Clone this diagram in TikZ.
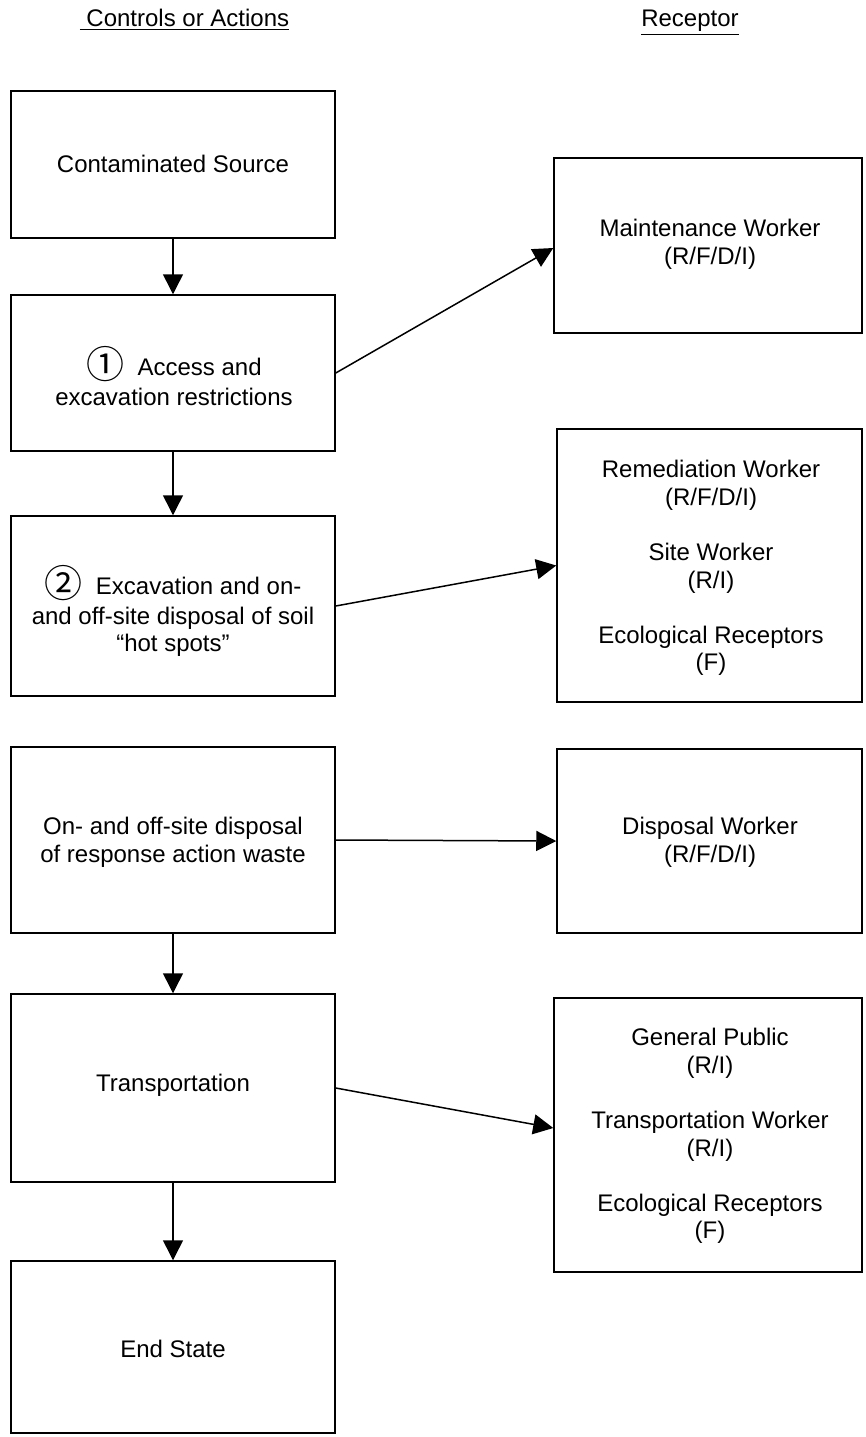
\documentclass[tikz,border=0pt]{standalone}
\usepackage{fontspec}
\setmainfont{Liberation Sans}
\newfontfamily\cjkfont{Noto Sans CJK JP}
\usetikzlibrary{arrows.meta}
\newcommand{\circnum}[1]{\raisebox{-1.5pt}{\cjkfont\fontsize{19}{19}\selectfont #1}}
\begin{document}
\begin{tikzpicture}[x=0.5pt,y=-0.5pt,
  box/.style={draw, line width=0.75pt, inner sep=0pt},
  lbox/.style={box, minimum width=162pt},
  rbox/.style={box},
  txt/.style={font=\fontsize{12}{13.8}\selectfont, align=center, inner sep=0pt},
  arr/.style={line width=0.75pt, -{Triangle[length=10pt,width=10pt]}}]
\useasboundingbox (0,0) rectangle (866,1437);

% headers
\node[txt, anchor=base] (h1) at (184.5,26.5) {\underline{\ Controls or Actions}};
\node[txt, anchor=base] (h2) at (690,26.5) {\underline{Receptor}};

% left column boxes
\node[lbox, minimum height=73.5pt] (b1) at (173,164.5) {};
\node[lbox, minimum height=78pt] (b2) at (173,373) {};
\node[lbox, minimum height=90pt] (b3) at (173,606) {};
\node[lbox, minimum height=93pt] (b4) at (173,840) {};
\node[lbox, minimum height=94pt] (b5) at (173,1088) {};
\node[lbox, minimum height=86pt] (b6) at (173,1347) {};

% right column boxes
\node[rbox, minimum width=154pt, minimum height=87.5pt] (r1) at (708,245.5) {};
\node[rbox, minimum width=152.5pt, minimum height=136.5pt] (r2) at (709.5,565.5) {};
\node[rbox, minimum width=152.5pt, minimum height=92pt] (r3) at (709.5,841) {};
\node[rbox, minimum width=154pt, minimum height=137pt] (r4) at (708,1135) {};

% texts
\node[txt] (t1) at (173,164) {Contaminated Source};
\node[txt] (t2) at (174,376) {\circnum{①}\ \ Access and\\[1pt]excavation restrictions};
\node[txt] (t3) at (173,611) {\circnum{②}\ \ Excavation and on-\\[1pt]and off-site disposal of soil\\“hot spots”};
\node[txt] (t4) at (173,842.5) {On- and off-site disposal\\of response action waste};
\node[txt] (t5) at (173,1085) {Transportation};
\node[txt] (t6) at (173,1349) {End State};

\node[txt] (s1) at (710,244.5) {Maintenance Worker\\(R/F/D/I)};
\node[txt] (s2) at (711,568) {Remediation Worker\\(R/F/D/I)\\[13.8pt]Site Worker\\(R/I)\\[13.8pt]Ecological Receptors\\(F)};
\node[txt] (s3) at (710,842.5) {Disposal Worker\\(R/F/D/I)};
\node[txt] (s4) at (710,1136) {General Public\\(R/I)\\[13.8pt]Transportation Worker\\(R/I)\\[13.8pt]Ecological Receptors\\(F)};

% connectors
\draw[arr] (b1) -- (b2);
\draw[arr] (b2) -- (b3);
\draw[arr] (b4) -- (b5);
\draw[arr] (b5) -- (b6);
\draw[arr] (b2.east) -- ([yshift=-1.25pt]r1.west);
\draw[arr] (b3.east) -- (r2.west);
\draw[arr] (b4.east) -- (r3.west);
\draw[arr] (b5.east) -- ([yshift=3.5pt]r4.west);
\end{tikzpicture}
\end{document}
